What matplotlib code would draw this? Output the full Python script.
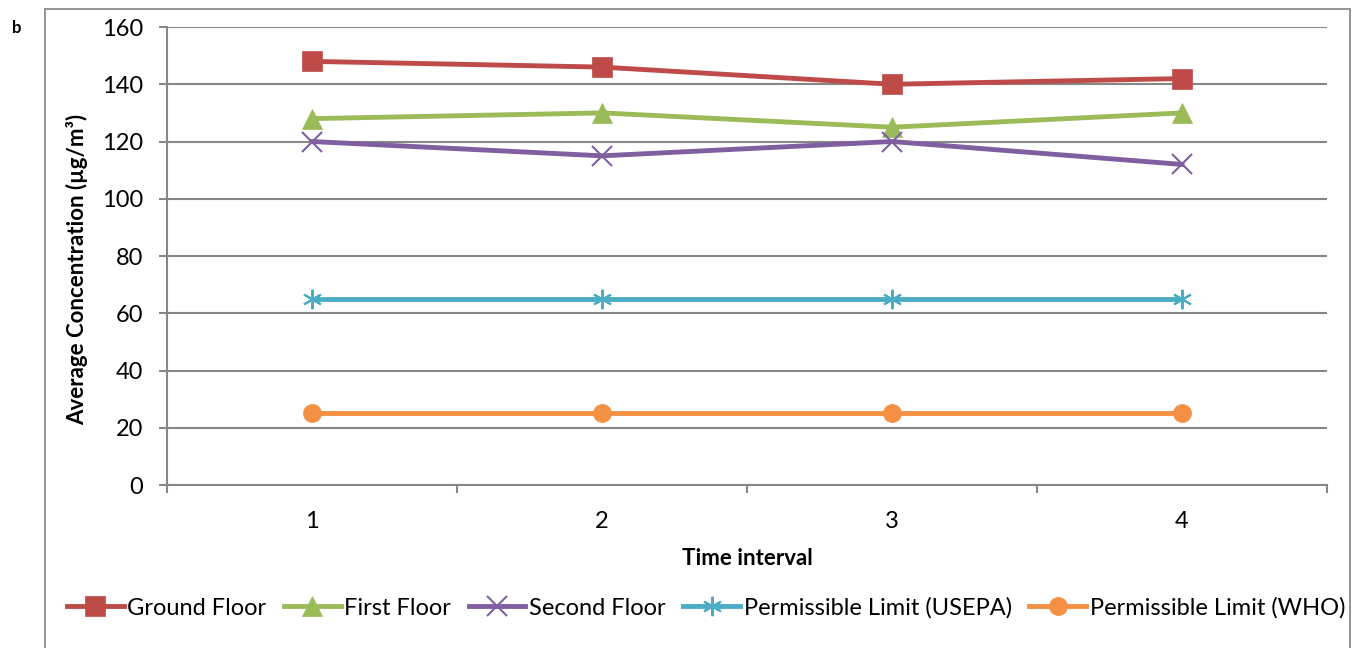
import matplotlib.pyplot as plt
from matplotlib.patches import Rectangle

plt.rcParams['font.family'] = ['Lato', 'DejaVu Sans']

intervals = [1, 2, 3, 4]
ground_floor = [148, 146, 140, 142]
first_floor = [128, 130, 125, 130]
second_floor = [120, 115, 120, 112]
limit_usepa = [65, 65, 65, 65]
limit_who = [25, 25, 25, 25]

series = [
    ('Ground Floor', ground_floor, '#BE4B48', 's', 14),
    ('First Floor', first_floor, '#9BBB59', '^', 15),
    ('Second Floor', second_floor, '#7F5FA0', 'x', 14),
    ('Permissible Limit (USEPA)', limit_usepa, '#4BACC6', (6, 2, 0), 14),
    ('Permissible Limit (WHO)', limit_who, '#F39044', 'o', 13),
]

fig = plt.figure(figsize=(13.54, 6.48), dpi=100)
ax = fig.add_axes([0.1233, 0.2515, 0.8568, 0.7068])

# outer chart border
fig.patches.append(Rectangle((45 / 1354, -0.05), 1305 / 1354, 1 - 9 / 648 + 0.05,
                             transform=fig.transFigure, fill=False,
                             edgecolor='#8C8C8C', linewidth=1.3))

for name, vals, color, marker, ms in series:
    mew = 1.5 if marker in ('x', (6, 2, 0)) else 0.5
    ax.plot(intervals, vals, color=color, linewidth=3.5, marker=marker,
            markersize=ms, markeredgewidth=mew, markeredgecolor=color,
            label=name, zorder=3)

ax.set_xlim(0.5, 4.5)
ax.set_ylim(0, 160)
ax.set_yticks(range(0, 161, 20))
ax.set_xticks(intervals)
ax.set_xticks([0.5, 1.5, 2.5, 3.5, 4.5], minor=True)
ax.grid(axis='y', color='#878787', linewidth=1.5, zorder=0)

for side in ('top', 'right'):
    ax.spines[side].set_visible(False)
for side in ('left', 'bottom'):
    ax.spines[side].set_color('#878787')
    ax.spines[side].set_linewidth(1.5)

ax.tick_params(axis='y', length=6, width=1.5, color='#878787', pad=11, labelsize=17)
ax.tick_params(axis='x', which='major', length=0, pad=19, labelsize=17)
ax.tick_params(axis='x', which='minor', length=6, width=1.5, color='#878787')

ax.set_xlabel('Time interval', fontsize=16, fontweight='bold', labelpad=11)
ax.set_ylabel('Average Concentration (µg/m³)', fontsize=16, fontweight='bold')
ax.yaxis.set_label_coords(-0.068, 0.47)

fig.text(12 / 1354, 1 - 28 / 648, 'b', fontsize=12, fontweight='bold', va='center')

fig.legend(loc='center', bbox_to_anchor=(706 / 1354, 1 - 608 / 648), ncol=5,
           frameon=False, fontsize=17, handlelength=2.4, handletextpad=0.15,
           columnspacing=0.75, markerscale=1.0, borderpad=0, borderaxespad=0)

fig.savefig('out.png', dpi=100)
